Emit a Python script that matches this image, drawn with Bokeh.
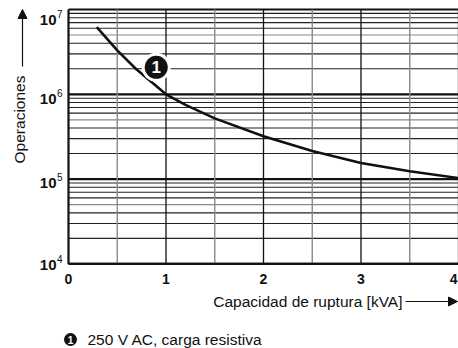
import math
from bokeh.plotting import figure
from bokeh.models import Arrow, NormalHead, Range1d
from bokeh.core.properties import value
from bokeh.embed import file_html
from bokeh.resources import INLINE

# ---------------- data ----------------
curve_x = [0.29, 0.5, 0.69, 1.0, 1.2, 1.5, 2.0, 2.5, 3.0, 3.5, 4.0]
curve_y = [6.2e6, 3.3e6, 2.0e6, 1.0e6, 7.5e5, 5.2e5, 3.2e5, 2.15e5, 1.55e5, 1.24e5, 1.03e5]
x_ticks = [0, 1, 2, 3, 4]
x_tick_labels = ["0", "1", "2", "3", "4"]
x_half_ticks = [0.5, 1.5, 2.5, 3.5]
y_decades = [1e4, 1e5, 1e6, 1e7]
y_tick_base = ["10", "10", "10", "10"]
y_tick_exp = ["4", "5", "6", "7"]
minor_factors = [2, 3, 4, 5, 6, 7, 8, 9]
marker_x, marker_y = 0.90, 2.08e6
marker_text = "1"
x_title = "Capacidad de ruptura [kVA]"
y_title = "Operaciones"
legend_text = "250 V AC, carga resistiva"

FONT = "Liberation Sans"
INK = "#111111"
W, H = 458, 348

# ---------------- layout: page px <-> data ----------------
FRAME_LEFT, PX_PER_X = 68.0, 97.5
FRAME_TOP, PX_PER_DEC = 9.0, 84.8
X_MIN, X_MAX = x_ticks[0], x_ticks[-1]
Y_MIN, Y_MAX = y_decades[0], y_decades[-1]


def dx(px):
    return (px - FRAME_LEFT) / PX_PER_X


def dy(py):
    return 10 ** (math.log10(Y_MAX) - (py - FRAME_TOP) / PX_PER_DEC)


p = figure(width=W, height=H, x_range=Range1d(dx(0), dx(W)),
           y_range=Range1d(dy(H), dy(0)), y_axis_type="log",
           x_axis_location=None, y_axis_location=None,
           output_backend="svg", toolbar_location=None,
           min_border=0)
p.grid.visible = False
p.outline_line_color = None
p.background_fill_color = "white"
p.border_fill_color = "white"

# ---------------- grid ----------------
minor_y = [f * d for d in y_decades[:-1] for f in minor_factors]
minor_col = ["#8a8a8a" if f == 5 else "#222222" for d in y_decades[:-1] for f in minor_factors]
p.segment(x0=[X_MIN] * len(minor_y), y0=minor_y, x1=[X_MAX] * len(minor_y), y1=minor_y,
          line_color=minor_col, line_width=1.1)
p.segment(x0=[X_MIN] * len(y_decades), y0=y_decades, x1=[X_MAX] * len(y_decades),
          y1=y_decades, line_color=INK, line_width=2.2)
p.segment(x0=x_half_ticks, y0=[Y_MIN] * len(x_half_ticks), x1=x_half_ticks,
          y1=[Y_MAX] * len(x_half_ticks), line_color="#8a8a8a", line_width=1.4)
p.segment(x0=x_ticks[1:], y0=[Y_MIN] * (len(x_ticks) - 1), x1=x_ticks[1:],
          y1=[Y_MAX] * (len(x_ticks) - 1), line_color=INK, line_width=1.3)
p.segment(x0=[X_MIN], y0=[Y_MIN], x1=[X_MIN], y1=[Y_MAX], line_color=INK, line_width=2.2)
p.segment(x0=[X_MIN], y0=[Y_MIN], x1=[X_MAX], y1=[Y_MIN], line_color=INK, line_width=2.2)

# ---------------- curve ----------------
p.line(curve_x, curve_y, line_width=2.6, line_color=INK)

p.scatter([marker_x], [marker_y], size=29, marker="circle",
          fill_color="white", line_color=None)
p.scatter([marker_x], [marker_y], size=23, marker="circle",
          fill_color=INK, line_color=None)
p.text([marker_x], [marker_y], text=[marker_text], text_color="white",
       text_font=value(FONT), text_font_style="bold", text_font_size="17px",
       text_align="center", text_baseline="middle")

# ---------------- tick labels ----------------
x_aligns = ["center"] * (len(x_ticks) - 1) + ["right"]
x_offs = [0] * (len(x_ticks) - 1) + [-1]
p.text(x_ticks, [dy(278)] * len(x_ticks), text=x_tick_labels, text_color=INK,
       text_font=value(FONT), text_font_style="bold", text_font_size="14px",
       text_align=x_aligns, x_offset=x_offs, text_baseline="middle")

base_py = [264, 182.5, 98, 19]
p.text([dx(56)] * len(y_decades), [dy(v) for v in base_py], text=y_tick_base,
       text_color=INK, text_font=value(FONT), text_font_style="bold",
       text_font_size="15px", text_align="right", text_baseline="middle")
p.text([dx(56.5)] * len(y_decades), [dy(v - 6) for v in base_py], text=y_tick_exp,
       text_color=INK, text_font=value(FONT), text_font_size="10px",
       text_align="left", text_baseline="middle")

# ---------------- axis titles ----------------
p.text([dx(19)], [dy(119)], text=[y_title], angle=math.pi / 2, text_color=INK,
       text_font=value(FONT), text_font_size="15.5px", text_align="center",
       text_baseline="middle")
p.add_layout(Arrow(end=NormalHead(size=9, fill_color=INK, line_color=INK),
                   x_start=dx(22), y_start=dy(66), x_end=dx(22), y_end=dy(9),
                   line_width=1.2, line_color=INK))

p.text([dx(402)], [dy(301)], text=[x_title], text_color=INK,
       text_font=value(FONT), text_font_size="15.5px", text_align="right",
       text_baseline="middle")
p.add_layout(Arrow(end=NormalHead(size=9, fill_color=INK, line_color=INK),
                   x_start=dx(405), y_start=dy(301), x_end=dx(457), y_end=dy(301),
                   line_width=1.2, line_color=INK))

# ---------------- legend ----------------
p.scatter([dx(70)], [dy(339)], size=13, marker="circle", fill_color=INK, line_color=None)
p.text([dx(70)], [dy(339)], text=[marker_text], text_color="white",
       text_font=value(FONT), text_font_style="bold", text_font_size="10px",
       text_align="center", text_baseline="middle")
p.text([dx(87)], [dy(339)], text=[legend_text], text_color=INK,
       text_font=value(FONT), text_font_size="15.5px", text_align="left",
       text_baseline="middle")

open("out.html", "w").write(file_html(p, INLINE))
